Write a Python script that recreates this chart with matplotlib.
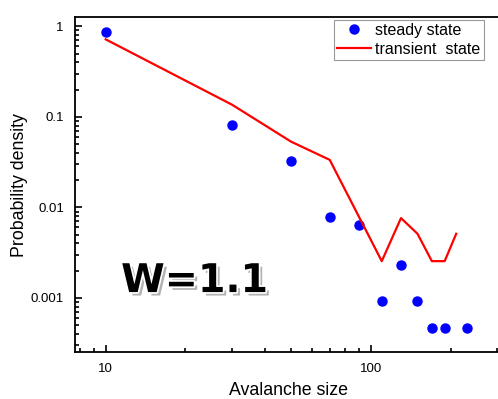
import matplotlib
matplotlib.use('Agg')
import matplotlib.pyplot as plt
import matplotlib.patheffects as pe
from matplotlib.ticker import LogLocator, FuncFormatter, NullFormatter

plt.rcParams['font.family'] = ['Liberation Sans', 'DejaVu Sans']

# steady state points
steady_x = [10, 30, 50, 70, 90, 110, 130, 150, 170, 190, 230]
steady_y = [0.865, 0.0816, 0.0327, 0.00775, 0.00632, 0.00093, 0.00229, 0.00093,
            0.00046, 0.00046, 0.00046]

# transient state line
trans_x = [10, 30, 50, 70, 110, 130, 150, 170, 190, 210]
trans_y = [0.718, 0.136, 0.0533, 0.0335, 0.00255, 0.00762, 0.00512, 0.00255,
           0.00255, 0.00512]

fig = plt.figure(figsize=(4.98, 3.99), dpi=100)
ax = fig.add_axes([0.1506, 0.1178, 0.857, 0.839])

ax.plot(steady_x, steady_y, 'o', color='blue', markersize=6.5, label='steady state')
ax.plot(trans_x, trans_y, '-', color='red', linewidth=1.6, label='transient  state')

ax.set_xscale('log')
ax.set_yscale('log')
ax.set_xlim(7.66, 312)
ax.set_ylim(2.53e-4, 1.26)

ax.yaxis.set_major_locator(LogLocator(base=10, numticks=10))
ax.yaxis.set_major_formatter(FuncFormatter(lambda v, p: '{:g}'.format(v)))
ax.xaxis.set_major_formatter(FuncFormatter(lambda v, p: '{:g}'.format(v)))
ax.yaxis.set_minor_locator(LogLocator(base=10, subs=range(2, 10), numticks=20))
ax.xaxis.set_minor_locator(LogLocator(base=10, subs=range(2, 10), numticks=20))
ax.xaxis.set_minor_formatter(NullFormatter())
ax.yaxis.set_minor_formatter(NullFormatter())

ax.tick_params(which='both', direction='in', labelsize=9.5, width=1.2)
ax.tick_params(which='major', length=5)
ax.tick_params(which='minor', length=3)
ax.tick_params(axis='y', which='major', pad=8)
ax.tick_params(axis='x', which='major', pad=8)
for s in ax.spines.values():
    s.set_linewidth(1.3)

ax.set_xlabel('Avalanche size', fontsize=12.8, labelpad=5)
ax.set_ylabel('Probability density', fontsize=12.8, labelpad=2)

ax.text(0.108, 0.179, 'W=1.1', transform=ax.transAxes, fontsize=28.5, fontweight='bold',
        family='DejaVu Sans', color='black', va='baseline',
        path_effects=[pe.withSimplePatchShadow(offset=(2.5, -2.5), shadow_rgbFace='gray', alpha=0.6),
                      pe.Stroke(linewidth=2.5, foreground='white'), pe.Normal()])

leg = ax.legend(loc='upper right', bbox_to_anchor=(0.958, 0.993), fontsize=11.5,
                frameon=True, fancybox=False, edgecolor='gray', borderpad=0.2,
                handlelength=2.1, handletextpad=0.3, labelspacing=0.25, borderaxespad=0)
leg.get_frame().set_linewidth(0.8)

fig.savefig('out.png', dpi=100)
